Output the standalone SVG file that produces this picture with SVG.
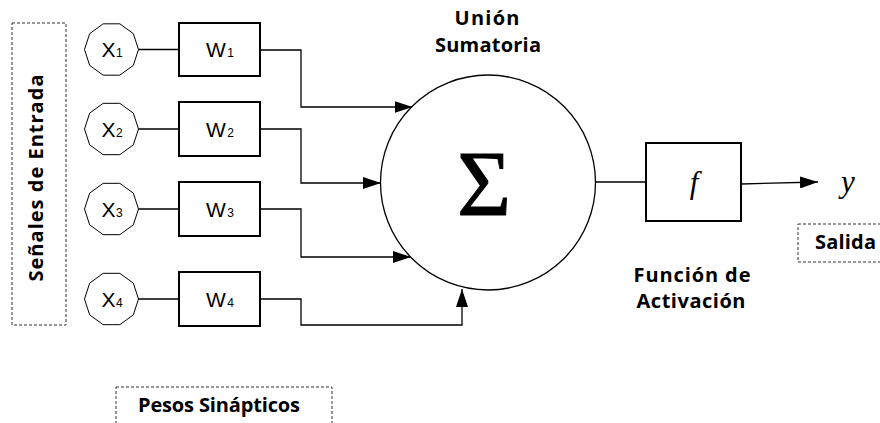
<svg xmlns="http://www.w3.org/2000/svg" width="880" height="423" viewBox="0 0 880 423">
  <style>
    .box { fill: #fff; stroke: #000; stroke-width: 2; }
    .dec { fill: #fff; stroke: #000; stroke-width: 1; }
    .wire { fill: none; stroke: #000; stroke-width: 1.3; }
    .dash { fill: none; stroke: #333; stroke-width: 1; stroke-dasharray: 3 2; }
    .lbl { font-family: "Open Sans", "DejaVu Sans", sans-serif; font-weight: 700; font-size: 20px; fill: #000; }
    .var { font-family: "Liberation Sans", Arial, sans-serif; font-size: 21px; fill: #000; }
    .sub { font-size: 12px; }
    .math { font-family: "Liberation Serif", "Times New Roman", serif; font-style: italic; font-size: 31px; fill: #000; }
  </style>
  <defs>
    <marker id="arrow" viewBox="0 0 18 12" refX="18" refY="6" markerWidth="18" markerHeight="12" markerUnits="userSpaceOnUse" orient="auto">
      <path d="M0,0 L18,6 L0,12 z" fill="#000"/>
    </marker>
    <polygon id="decagon" points="27,0 21.84,15.87 8.34,25.68 -8.34,25.68 -21.84,15.87 -27,0 -21.84,-15.87 -8.34,-25.68 8.34,-25.68 21.84,-15.87"/>
    <filter id="soft" x="-10%" y="-10%" width="120%" height="120%">
      <feGaussianBlur stdDeviation="0.7"/>
    </filter>
  </defs>

  <!-- dashed caption frames -->
  <g id="input-label">
    <rect class="dash" x="12" y="23" width="54" height="302"/>
    <text class="lbl" font-size="19" transform="translate(43,178) rotate(-90)" text-anchor="middle" textLength="207" lengthAdjust="spacing">Señales de Entrada</text>
  </g>
  <g id="weights-label">
    <rect class="dash" x="116" y="387" width="216" height="60"/>
    <text class="lbl" x="138" y="412" textLength="162" lengthAdjust="spacing">Pesos Sinápticos</text>
  </g>
  <g id="output-label">
    <rect class="dash" x="798" y="224" width="100" height="38"/>
    <text class="lbl" x="815" y="249" textLength="61" lengthAdjust="spacing">Salida</text>
  </g>

  <!-- connectors -->
  <g id="connectors">
    <line class="wire" x1="138" y1="49.5" x2="179" y2="49.5"/>
    <line class="wire" x1="138" y1="129" x2="179" y2="129"/>
    <line class="wire" x1="138" y1="209" x2="179" y2="209"/>
    <line class="wire" x1="138" y1="299" x2="179" y2="299"/>
    <polyline class="wire" points="260,50 301,50 301,107 412.5,107" marker-end="url(#arrow)"/>
    <polyline class="wire" points="260,129 301,129 301,183 381,183" marker-end="url(#arrow)"/>
    <polyline class="wire" points="260,209 301,209 301,257 411,257" marker-end="url(#arrow)"/>
    <polyline class="wire" points="260,299 301,299 301,325 462,325 462,289" marker-end="url(#arrow)"/>
    <line class="wire" x1="596" y1="182" x2="646" y2="182"/>
    <line class="wire" x1="741" y1="184" x2="818" y2="182" marker-end="url(#arrow)"/>
  </g>

  <!-- input signals -->
  <g id="x1">
    <use href="#decagon" class="dec" x="111.5" y="49.5"/>
    <text class="var" x="101.5" y="57">X<tspan class="sub" dx="0.5">1</tspan></text>
  </g>
  <g id="x2">
    <use href="#decagon" class="dec" x="111.5" y="129"/>
    <text class="var" x="101.5" y="136.5">X<tspan class="sub" dx="0.5">2</tspan></text>
  </g>
  <g id="x3">
    <use href="#decagon" class="dec" x="111.5" y="209"/>
    <text class="var" x="101.5" y="216.5">X<tspan class="sub" dx="0.5">3</tspan></text>
  </g>
  <g id="x4">
    <use href="#decagon" class="dec" x="111.5" y="299"/>
    <text class="var" x="101.5" y="306.5">X<tspan class="sub" dx="0.5">4</tspan></text>
  </g>

  <!-- synaptic weights -->
  <g id="w1">
    <rect class="box" x="179" y="23" width="81" height="53"/>
    <text class="var" x="206" y="57">W<tspan class="sub" dx="1.5">1</tspan></text>
  </g>
  <g id="w2">
    <rect class="box" x="179" y="102" width="81" height="54"/>
    <text class="var" x="206" y="136.5">W<tspan class="sub" dx="1.5">2</tspan></text>
  </g>
  <g id="w3">
    <rect class="box" x="179" y="182" width="81" height="54"/>
    <text class="var" x="206" y="216.5">W<tspan class="sub" dx="1.5">3</tspan></text>
  </g>
  <g id="w4">
    <rect class="box" x="179" y="272" width="81" height="54"/>
    <text class="var" x="206" y="306.5">W<tspan class="sub" dx="1.5">4</tspan></text>
  </g>

  <!-- summing junction -->
  <g id="sum">
    <circle cx="488" cy="182.5" r="107.5" fill="#fff" stroke="#000" stroke-width="1.3"/>
    <text x="484" y="215" text-anchor="middle" font-family="Liberation Serif, Times New Roman, serif" font-size="93" stroke="#000" stroke-width="1" filter="url(#soft)">Σ</text>
    <text class="lbl" x="487" y="25" text-anchor="middle" textLength="65" lengthAdjust="spacing">Unión</text>
    <text class="lbl" x="488" y="52" text-anchor="middle" textLength="106" lengthAdjust="spacing">Sumatoria</text>
  </g>

  <!-- activation function -->
  <g id="activation">
    <rect class="box" x="646" y="143" width="95" height="78"/>
    <text class="math" x="694" y="193" text-anchor="middle">f</text>
    <text class="lbl" x="692" y="282" text-anchor="middle" textLength="117" lengthAdjust="spacing">Función de</text>
    <text class="lbl" x="691" y="308" text-anchor="middle" textLength="109" lengthAdjust="spacing">Activación</text>
  </g>

  <!-- output -->
  <g id="output">
    <text class="math" x="841" y="192">y</text>
  </g>
</svg>
